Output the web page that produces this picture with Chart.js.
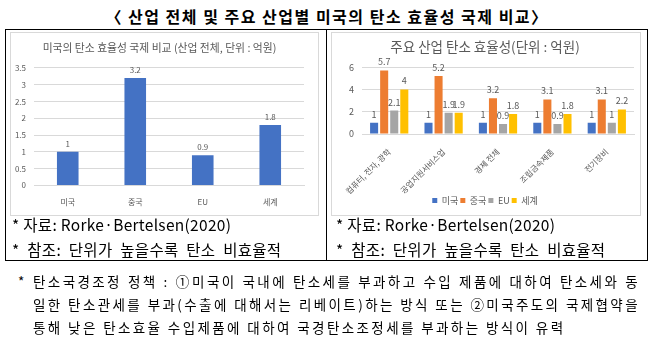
<!DOCTYPE html>
<html>
<head>
<meta charset="utf-8">
<script src="https://cdn.jsdelivr.net/npm/chart.js@4"></script>
<style>
  body { margin: 0; background: #fff; width: 654px; height: 342px; overflow: hidden; position: relative;
         font-family: "Noto Sans CJK KR", "Noto Sans", sans-serif; color: #000; }
  .abs { position: absolute; }
  #title { left: 0; width: 654px; top: 5px; text-align: center; font-weight: bold; font-size: 16px; letter-spacing: 1.5px; line-height: 22px; }
  #box { left: 5px; top: 29px; width: 643px; height: 232px; border: 1px solid #000; box-sizing: border-box; }
  #divider { left: 326px; top: 29px; width: 1px; height: 232px; background: #000; }
  .frame { border: 1px solid #d9d9d9; box-sizing: border-box; background: #fff; }
  .cap { font-size: 15.5px; line-height: 20px; white-space: nowrap; letter-spacing: 0.3px; }
  .note { font-size: 13.5px; line-height: 18px; white-space: nowrap; letter-spacing: 2.4px; }
</style>
</head>
<body>
<div id="title" class="abs">〈 산업 전체 및 주요 산업별 미국의 탄소 효율성 국제 비교〉</div>
<div id="box" class="abs"></div>
<div id="divider" class="abs"></div>

<div class="abs frame" style="left:10px;top:32px;width:309px;height:184px;">
  <canvas id="c1" width="307" height="182"></canvas>
</div>
<div class="abs frame" style="left:331px;top:32px;width:310px;height:184px;">
  <canvas id="c2" width="308" height="182"></canvas>
</div>

<div class="abs cap" style="left:12px;top:214px;">* 자료: Rorke·Bertelsen(2020)</div>
<div class="abs cap" style="left:12px;top:239px;word-spacing:4px;">* 참조: 단위가 높을수록 탄소 비효율적</div>
<div class="abs cap" style="left:336px;top:214px;">* 자료: Rorke·Bertelsen(2020)</div>
<div class="abs cap" style="left:336px;top:239px;word-spacing:4px;">* 참조: 단위가 높을수록 탄소 비효율적</div>

<div class="abs note" style="left:18px;top:272px;">*</div>
<div class="abs note" style="left:33px;top:272px;width:607px;text-align:justify;text-align-last:justify;">탄소국경조정 정책 : ①미국이 국내에 탄소세를 부과하고 수입 제품에 대하여 탄소세와 동</div>
<div class="abs note" style="left:33px;top:295px;width:607px;text-align:justify;text-align-last:justify;">일한 탄소관세를 부과(수출에 대해서는 리베이트)하는 방식 또는 ②미국주도의 국제협약을</div>
<div class="abs note" style="left:33px;top:318px;">통해 낮은 탄소효율 수입제품에 대하여 국경탄소조정세를 부과하는 방식이 유력</div>

<script>
// 산업 전체
const regions = ['미국', '중국', 'EU', '세계'];
const totalValues = [1, 3.2, 0.9, 1.8];

// 주요 산업
const industries = ['컴퓨터, 전자, 광학', '공업지원서비스업', '경제 전체', '조립금속제품', '전기장비'];
const usValues = [1, 1, 1, 1, 1];
const chinaValues = [5.7, 5.2, 3.2, 3.1, 3.1];
const euValues = [2.1, 1.9, 0.9, 0.9, 1];
const worldValues = [4, 1.9, 1.8, 1.8, 2.2];

const blue = '#4472C4', orange = '#ED7D31', gray = '#A5A5A5', yellow = '#FFC000';
const textGray = '#595959', gridGray = '#d9d9d9';
const fontFam = '"Noto Sans CJK KR", "Noto Sans", sans-serif';

// 막대 위 값 표시
const valueLabels = {
  id: 'valueLabels',
  afterDatasetsDraw(chart, args, opts) {
    const ctx = chart.ctx;
    ctx.save();
    ctx.fillStyle = textGray;
    ctx.font = (opts.size || 8) + 'px ' + fontFam;
    ctx.textAlign = 'center';
    ctx.textBaseline = 'bottom';
    chart.data.datasets.forEach((ds, i) => {
      chart.getDatasetMeta(i).data.forEach((bar, j) => {
        ctx.fillText(String(ds.data[j]), bar.x, bar.y - 4);
      });
    });
    ctx.restore();
  }
};

new Chart(document.getElementById('c1'), {
  type: 'bar',
  data: {
    labels: regions,
    datasets: [{ data: totalValues, backgroundColor: blue, barPercentage: 1, categoryPercentage: 0.32 }]
  },
  options: {
    responsive: false,
    animation: false,
    layout: { padding: { left: 4, right: 14, top: 4, bottom: 4 } },
    plugins: {
      legend: { display: false },
      tooltip: { enabled: false },
      valueLabels: { size: 8 },
      title: {
        display: true,
        text: '미국의 탄소 효율성 국제 비교 (산업 전체, 단위 : 억원)',
        color: textGray,
        font: { family: fontFam, size: 10.8, weight: 'normal' },
        padding: { top: 4, bottom: 14 }
      }
    },
    scales: {
      x: {
        grid: { display: false },
        border: { color: gridGray },
        ticks: { color: textGray, font: { family: fontFam, size: 8 }, padding: 4 }
      },
      y: {
        min: 0, max: 3.5,
        ticks: { stepSize: 0.5, color: textGray, font: { family: fontFam, size: 8 }, padding: 8,
                 callback: v => String(v) },
        grid: { color: gridGray, drawTicks: false },
        border: { display: false },
        afterFit: s => { s.width = 19; }
      }
    }
  },
  plugins: [valueLabels]
});

new Chart(document.getElementById('c2'), {
  type: 'bar',
  data: {
    labels: industries,
    datasets: [
      { label: '미국', data: usValues, backgroundColor: blue },
      { label: '중국', data: chinaValues, backgroundColor: orange },
      { label: 'EU', data: euValues, backgroundColor: gray },
      { label: '세계', data: worldValues, backgroundColor: yellow }
    ]
  },
  options: {
    responsive: false,
    animation: false,
    datasets: { bar: { barPercentage: 0.8, categoryPercentage: 0.74 } },
    layout: { padding: { left: 4, right: 6, top: 2, bottom: 0 } },
    plugins: {
      tooltip: { enabled: false },
      valueLabels: { size: 9 },
      title: {
        display: true,
        text: '주요 산업 탄소 효율성(단위 : 억원)',
        color: textGray,
        font: { family: fontFam, size: 13.5, weight: 'normal' },
        padding: { top: 4, bottom: 12 }
      },
      legend: {
        position: 'bottom',
        labels: { boxWidth: 5, boxHeight: 5, padding: 2, color: textGray, font: { family: fontFam, size: 9 } }
      }
    },
    scales: {
      x: {
        grid: { display: false },
        border: { color: gridGray },
        ticks: { minRotation: 45, maxRotation: 45, color: textGray, font: { family: fontFam, size: 8 }, padding: 5 },
        afterFit: s => { s.height = 60; }
      },
      y: {
        min: 0, max: 6,
        ticks: { stepSize: 1, color: textGray, font: { family: fontFam, size: 9 }, padding: 8 },
        grid: { color: gridGray, drawTicks: false },
        border: { display: false },
        afterFit: s => { s.width = 26; }
      }
    }
  },
  plugins: [valueLabels]
});
</script>
</body>
</html>
